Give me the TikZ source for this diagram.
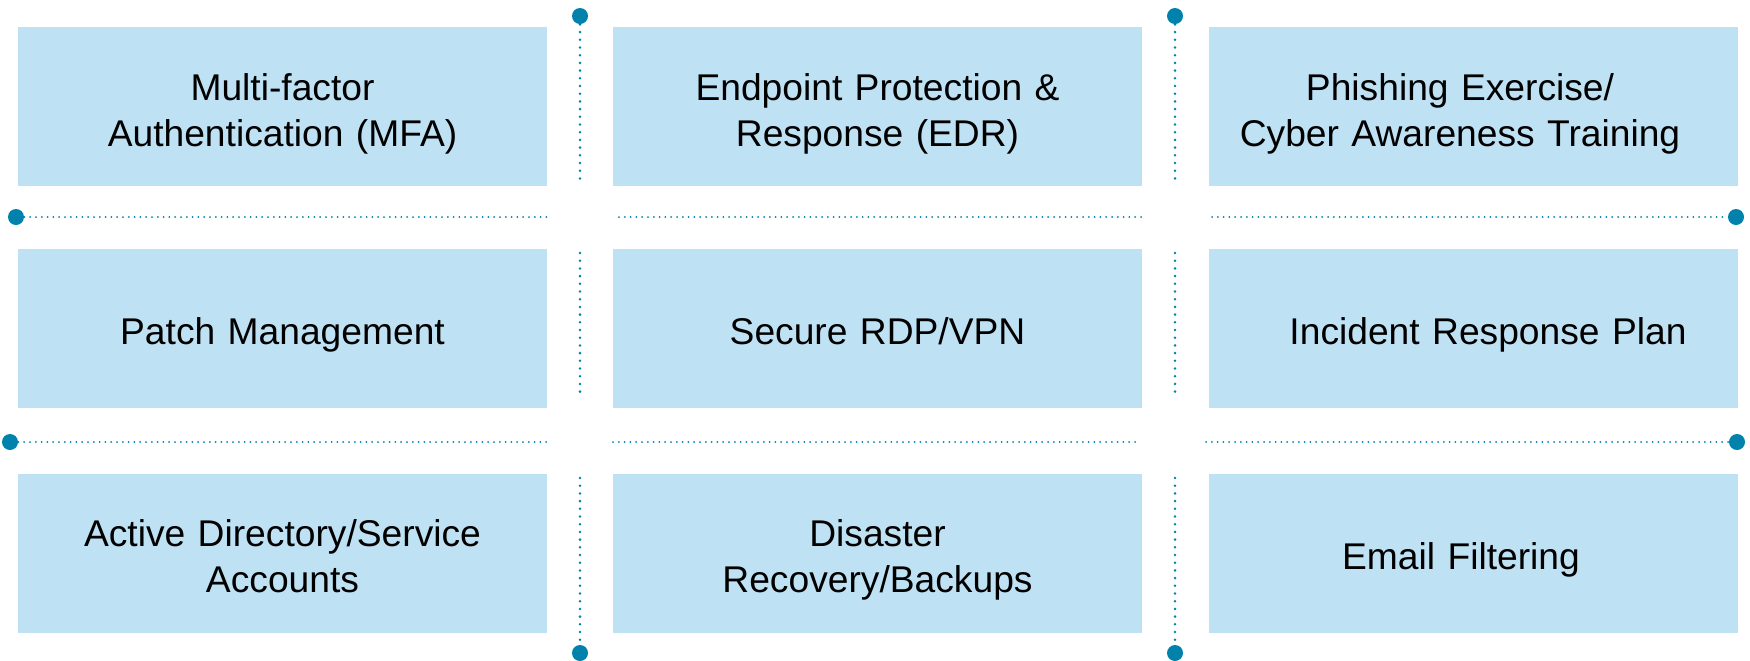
\documentclass[tikz,border=0pt]{standalone}
\usepackage{fontspec}
\setmainfont{Liberation Sans}
\definecolor{boxblue}{RGB}{190,226,244}
\definecolor{dotteal}{RGB}{0,130,172}

\begin{document}
\begin{tikzpicture}[x=0.5pt, y=-0.5pt,
        item/.style={fill=boxblue, minimum width=264.5pt, minimum height=79.5pt,
            text width=250pt, align=center, font=\fontsize{18.6}{22.8}\selectfont, inner sep=0pt,
            execute at begin node={\rule{0pt}{22.7pt}},
            execute at end node={\rule[-6pt]{0pt}{0pt}}},
        knob/.style={circle, fill=dotteal, minimum size=8pt, inner sep=0pt},
        hdots/.style={dotteal, line width=1pt, line cap=round, dash pattern=on 0pt off 2.9pt},
        vdots/.style={dotteal, line width=1.4pt, line cap=round, dash pattern=on 0pt off 3.85pt}]
        \useasboundingbox (0,0) rectangle (1750,660);

        % 九个方块
        \node[item] (mfa) at (282.5,106.5) {Multi-factor\\Authentication (MFA)};
        \node[item] (edr) at (877.5,106.5) {Endpoint Protection \&\\Response (EDR)};
        \node[item] (phish) at (1473,106.5) {Phishing Exercise/\kern13pt\\Cyber Awareness Training\kern13pt};
        \node[item] (patch) at (282.5,328) {Patch Management};
        \node[item] (rdp) at (877.5,328) {Secure RDP/VPN};
        \node[item] (irp) at (1473,328) {\hspace*{15pt}Incident Response Plan};
        \node[item] (ad) at (282.5,553) {Active Directory/Service\\Accounts};
        \node[item] (dr) at (877.5,553) {Disaster\\Recovery/Backups};
        \node[item] (mail) at (1473,553) {Email Filtering\kern12pt};

        % 端点圆点
        \node[knob] (vtopa) at (580,16) {};
        \node[knob] (vtopb) at (1175,16) {};
        \node[knob] (vbota) at (580,653) {};
        \node[knob] (vbotb) at (1175,653) {};
        \node[knob] (hlefta) at (16,217) {};
        \node[knob] (hleftb) at (10,442) {};
        \node[knob] (hrighta) at (1736,217) {};
        \node[knob] (hrightb) at (1737,442) {};

        % 竖虚线
        \draw[vdots] (vtopa) -- (580,180);
        \draw[vdots] (580,253) -- (580,399);
        \draw[vdots] (580,478) -- (vbota);
        \draw[vdots] (vtopb) -- (1175,180);
        \draw[vdots] (1175,253) -- (1175,399);
        \draw[vdots] (1175,478) -- (vbotb);

        % 横虚线
        \draw[hdots] (hlefta) -- (551,217);
        \draw[hdots] (619,217) -- (1146,217);
        \draw[hdots] (1212,217) -- (hrighta);
        \draw[hdots] (hleftb) -- (547,442);
        \draw[hdots] (613,442) -- (1140,442);
        \draw[hdots] (1206,442) -- (hrightb);
    \end{tikzpicture}
\end{document}
